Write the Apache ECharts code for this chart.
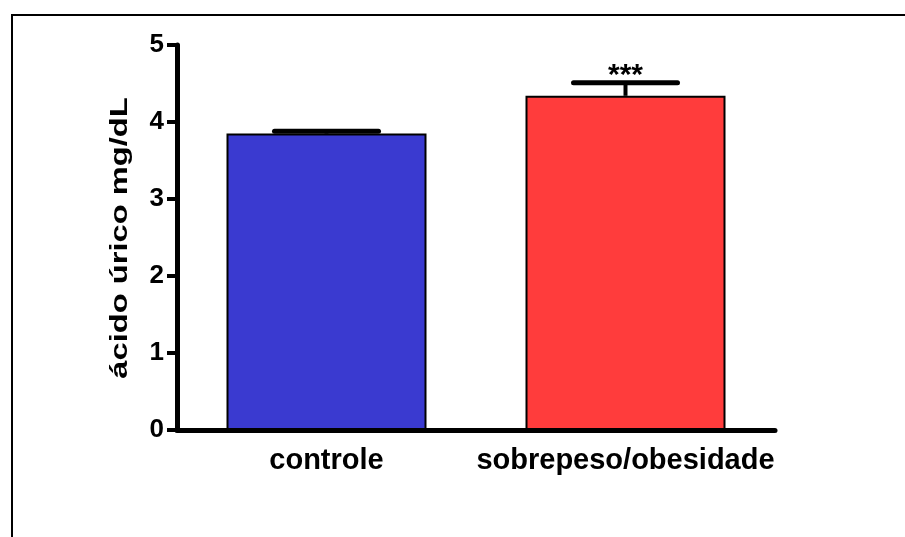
<!DOCTYPE html>
<html>
<head>
<meta charset="utf-8">
<script src="https://cdn.jsdelivr.net/npm/echarts@6/dist/echarts.min.js"></script>
<style>html,body{margin:0;padding:0;background:#fff}#c{width:905px;height:537px}</style>
</head>
<body>
<div id="c"></div>
<script>
const categories = ['controle', 'sobrepeso/obesidade'];
const means = [3.85, 4.34];
const sem = [0.03, 0.17];
const significance = ['', '***'];
const yTicks = [0, 1, 2, 3, 4, 5];
const yTitle = 'ácido úrico mg/dL';
const barColors = ['#3a3ad0', '#ff3c3c'];

const chart = echarts.init(document.getElementById('c'));
const FONT = 'Liberation Sans, Arial, sans-serif';

chart.setOption({
  animation: false,
  backgroundColor: '#fff',
  grid: { left: 177, right: 130, top: 45, bottom: 107 },
  graphic: [
    { type: 'polyline', shape: { points: [[12, 537], [12, 15], [905, 15]] },
      style: { stroke: '#000', lineWidth: 2, fill: null } },
    { type: 'text', x: 121, y: 238, rotation: Math.PI / 2, scaleX: 1.42,
      style: { text: yTitle, fill: '#000', fontFamily: FONT, fontWeight: 'bold', fontSize: 23,
        align: 'center', verticalAlign: 'middle' } }
  ],
  xAxis: {
    type: 'category',
    data: categories,
    axisLine: { lineStyle: { color: '#000', width: 5, cap: 'round' } },
    axisTick: { show: false },
    axisLabel: { interval: 0, hideOverlap: false, color: '#000', fontFamily: FONT, fontWeight: 'bold', fontSize: 29, margin: 16 }
  },
  yAxis: {
    type: 'value',
    min: yTicks[0], max: yTicks[yTicks.length - 1], interval: 1,
    axisLine: { show: true, lineStyle: { color: '#000', width: 5 } },
    axisTick: { show: true, length: 10, lineStyle: { color: '#000', width: 4 } },
    axisLabel: { color: '#000', fontFamily: FONT, fontWeight: 'bold', fontSize: 26, margin: 13 },
    splitLine: { show: false }
  },
  series: [
    {
      type: 'bar',
      barWidth: 200,
      data: means.map((v, i) => ({ value: v, itemStyle: { color: barColors[i] } })),
      itemStyle: { borderColor: '#000', borderWidth: 2 },
      z: 2
    },
    {
      type: 'custom',
      z: 3,
      data: means.map((v, i) => [i, v, sem[i]]),
      renderItem: function (params, api) {
        const i = api.value(0);
        const m = api.value(1);
        const s = api.value(2);
        const base = api.coord([i, m]);
        const top = api.coord([i, m + s]);
        const half = 52;
        const children = [
          { type: 'line', shape: { x1: base[0], y1: base[1], x2: top[0], y2: top[1] },
            style: { stroke: '#000', lineWidth: 4 } },
          { type: 'line', shape: { x1: top[0] - half, y1: top[1], x2: top[0] + half, y2: top[1] },
            style: { stroke: '#000', lineWidth: 5, lineCap: 'round' } }
        ];
        const sig = significance[params.dataIndex];
        if (sig) {
          children.push({ type: 'text', x: top[0], y: top[1] - 7,
            style: { text: sig, fill: '#000', fontFamily: FONT, fontWeight: 'bold', fontSize: 30,
              align: 'center', verticalAlign: 'middle' } });
        }
        return { type: 'group', children: children };
      }
    }
  ]
});
</script>
</body>
</html>
